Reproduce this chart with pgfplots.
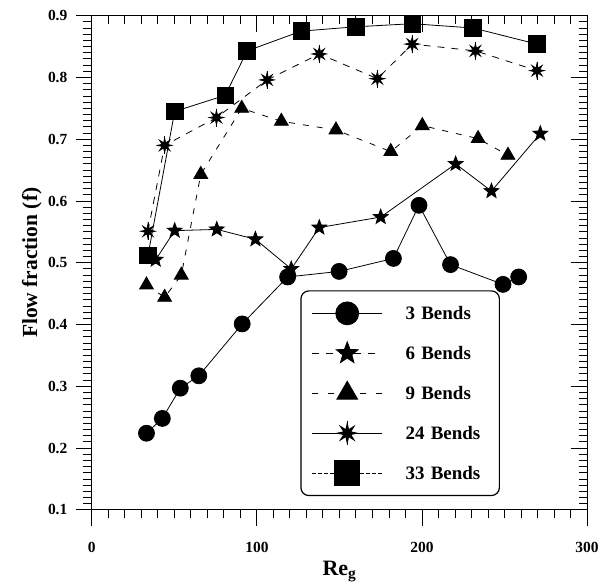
\documentclass[border=0pt]{standalone}
\usepackage{fontspec}
\setmainfont{Liberation Serif}
\usepackage{pgfplots}
\pgfplotsset{compat=1.18}

% filled eight-point burst with a vertical spike (24 bends)
\pgfdeclareplotmark{burst}{%
  \pgfpathmoveto{\pgfpointpolar{0}{\pgfplotmarksize}}%
  \pgfpathlineto{\pgfpointpolar{22.5}{0.38\pgfplotmarksize}}%
  \pgfpathlineto{\pgfpointpolar{45}{\pgfplotmarksize}}%
  \pgfpathlineto{\pgfpointpolar{67.5}{0.38\pgfplotmarksize}}%
  \pgfpathlineto{\pgfpointpolar{90}{\pgfplotmarksize}}%
  \pgfpathlineto{\pgfpointpolar{112.5}{0.38\pgfplotmarksize}}%
  \pgfpathlineto{\pgfpointpolar{135}{\pgfplotmarksize}}%
  \pgfpathlineto{\pgfpointpolar{157.5}{0.38\pgfplotmarksize}}%
  \pgfpathlineto{\pgfpointpolar{180}{\pgfplotmarksize}}%
  \pgfpathlineto{\pgfpointpolar{202.5}{0.38\pgfplotmarksize}}%
  \pgfpathlineto{\pgfpointpolar{225}{\pgfplotmarksize}}%
  \pgfpathlineto{\pgfpointpolar{247.5}{0.38\pgfplotmarksize}}%
  \pgfpathlineto{\pgfpointpolar{270}{\pgfplotmarksize}}%
  \pgfpathlineto{\pgfpointpolar{292.5}{0.38\pgfplotmarksize}}%
  \pgfpathlineto{\pgfpointpolar{315}{\pgfplotmarksize}}%
  \pgfpathlineto{\pgfpointpolar{337.5}{0.38\pgfplotmarksize}}%
  \pgfpathclose
  \pgfusepathqfillstroke
  \pgfpathmoveto{\pgfpoint{0pt}{1.3\pgfplotmarksize}}%
  \pgfpathlineto{\pgfpoint{0pt}{-1.3\pgfplotmarksize}}%
  \pgfusepathqstroke
}

% filled five-point star (6 bends)
\pgfdeclareplotmark{fstar}{%
  \pgfpathmoveto{\pgfpointpolar{90}{\pgfplotmarksize}}%
  \pgfpathlineto{\pgfpointpolar{126}{0.42\pgfplotmarksize}}%
  \pgfpathlineto{\pgfpointpolar{162}{\pgfplotmarksize}}%
  \pgfpathlineto{\pgfpointpolar{198}{0.42\pgfplotmarksize}}%
  \pgfpathlineto{\pgfpointpolar{234}{\pgfplotmarksize}}%
  \pgfpathlineto{\pgfpointpolar{270}{0.42\pgfplotmarksize}}%
  \pgfpathlineto{\pgfpointpolar{306}{\pgfplotmarksize}}%
  \pgfpathlineto{\pgfpointpolar{342}{0.42\pgfplotmarksize}}%
  \pgfpathlineto{\pgfpointpolar{18}{\pgfplotmarksize}}%
  \pgfpathlineto{\pgfpointpolar{54}{0.42\pgfplotmarksize}}%
  \pgfpathclose
  \pgfusepathqfillstroke
}

\pgfplotsset{
  % common geometry and ranges of the three overlaid axes
  panel/.style={
    scale only axis, width=496pt, height=495pt,
    at={(0,0)}, anchor=south west,
    xmin=0, xmax=300, ymin=0.1, ymax=0.9,
  },
  % frame with ticks
  ticked/.style={
    panel,
    xtick={0,100,200,300},
    ytick={0.1,0.2,0.3,0.4,0.5,0.6,0.7,0.8,0.9},
    minor x tick num=9, minor y tick num=9,
    tickwidth=16pt, subtickwidth=8.5pt,
    every tick/.append style={black, line width=0.9pt},
    axis line style={line width=0.9pt},
  },
}

\begin{document}
\begin{tikzpicture}
% bottom and left edges: outward ticks, tick labels and axis titles
\begin{axis}[
  ticked,
  xtick pos=left, ytick pos=left, tick align=outside,
  /pgf/number format/assume math mode=true,
  ticklabel style={font=\fontsize{15.5}{18}\selectfont\bfseries},
  xticklabel style={yshift=-13pt},
  yticklabel style={xshift=-5pt, /pgf/number format/fixed,
                    /pgf/number format/fixed zerofill,
                    /pgf/number format/precision=1},
  xlabel={Re\textsubscript{g}},
  xlabel style={at={(axis description cs:0.5,-0.124)}, anchor=center,
                font=\fontsize{22}{26}\selectfont\bfseries},
  ylabel={Flow fraction (f)},
  ylabel style={at={(axis description cs:-0.121,0.5)}, anchor=center,
                font=\fontsize{21.5}{25}\selectfont\bfseries},
]
\end{axis}

% top and right edges: ticks pointing into the plot
\begin{axis}[
  ticked,
  xtick pos=right, ytick pos=right, tick align=inside,
  xticklabels={}, yticklabels={},
]
\end{axis}

% data and legend
\begin{axis}[
  panel, hide axis,
  legend image code/.code={%
    \path[draw=none, fill=none] (0pt,-13pt) rectangle (70pt,13pt);
    \draw[mark repeat=2, mark phase=2, #1]
      plot coordinates {(0pt,0pt) (35pt,0pt) (70pt,0pt)};},
  legend style={
    at={(axis description cs:0.421,0.0277)}, anchor=south west,
    draw=black, line width=1.2pt, rounded corners=8pt,
    inner xsep=11pt, inner ysep=9.5pt,
    row sep=14pt, column sep=23pt,
    nodes={inner sep=0pt, text height=12pt, text depth=0pt, text width=83pt},
    font=\fontsize{19}{22}\selectfont\bfseries,
  },
  legend cell align=left,
]
% legend samples
\addlegendimage{sharp corners, line width=0.8pt, solid, mark=*, mark size=11.5pt,
  mark options={solid, fill=black}}
\addlegendentry{3 Bends}
\addlegendimage{sharp corners, line width=0.8pt, dash pattern=on 7pt off 7pt,
  mark=fstar, mark size=11.5pt, mark options={solid, fill=black}}
\addlegendentry{6 Bends}
\addlegendimage{sharp corners, line width=0.8pt, dash pattern=on 6pt off 10pt,
  mark=triangle*, mark size=12pt, mark options={solid, fill=black}}
\addlegendentry{9 Bends}
\addlegendimage{sharp corners, line width=0.8pt, solid,
  mark=burst, mark size=9.5pt, mark options={solid, fill=black, line width=1pt}}
\addlegendentry{24 Bends}
\addlegendimage{sharp corners, line width=0.8pt, dash pattern=on 4pt off 2pt,
  mark=square*, mark size=12.5pt, mark options={solid, fill=black}}
\addlegendentry{33 Bends}

% 3 bends
\addplot[forget plot, black, line width=0.8pt, mark=*, mark size=8pt,
  mark options={solid, fill=black}] coordinates {
  (33.1,0.224) (42.7,0.248) (53.6,0.297) (64.8,0.317) (91.1,0.401)
  (118.6,0.477) (149.8,0.486) (182.7,0.507) (198.2,0.593) (217.3,0.497)
  (249.1,0.465) (258.6,0.477)};
% 6 bends
\addplot[forget plot, black, line width=0.8pt, mark=fstar, mark size=7.8pt,
  mark options={solid, fill=black}] coordinates {
  (38.7,0.505) (50.2,0.552) (75.7,0.554) (99.1,0.538) (120.8,0.490)
  (137.8,0.557) (175.0,0.574) (220.4,0.660) (242.1,0.616) (271.7,0.709)};
% 9 bends
\addplot[forget plot, black, line width=0.8pt, dash pattern=on 6pt off 8pt,
  mark=triangle*, mark size=8pt, mark options={solid, fill=black}] coordinates {
  (33.1,0.464) (44.1,0.444) (54.2,0.480) (66.0,0.643) (90.8,0.750)
  (114.8,0.729) (147.9,0.715) (181.1,0.680) (200.2,0.722) (234.0,0.701)
  (252.1,0.674)};
% 24 bends
\addplot[forget plot, black, line width=0.8pt, dash pattern=on 7pt off 7pt,
  mark=burst, mark size=7pt, mark options={solid, fill=black, line width=0.9pt}] coordinates {
  (34.0,0.551) (44.1,0.690) (75.5,0.735) (106.2,0.796) (137.8,0.838)
  (173.0,0.798) (194.1,0.854) (232.4,0.843) (269.7,0.811)};
% 33 bends
\addplot[forget plot, black, line width=0.8pt, mark=square*, mark size=8.3pt,
  mark options={solid, fill=black}] coordinates {
  (34.0,0.512) (50.2,0.745) (80.8,0.771) (94.1,0.843) (126.9,0.875)
  (159.9,0.882) (194.1,0.887) (231.0,0.880) (269.7,0.854)};

\node[font=\fontsize{19}{22}\selectfont, anchor=center]
  at (axis description cs:-0.141,-0.133) {(b)};
\end{axis}

\pgfresetboundingbox
\path[use as bounding box] (-92pt,-74.3pt) rectangle (507pt,510.7pt);
\end{tikzpicture}
\end{document}
